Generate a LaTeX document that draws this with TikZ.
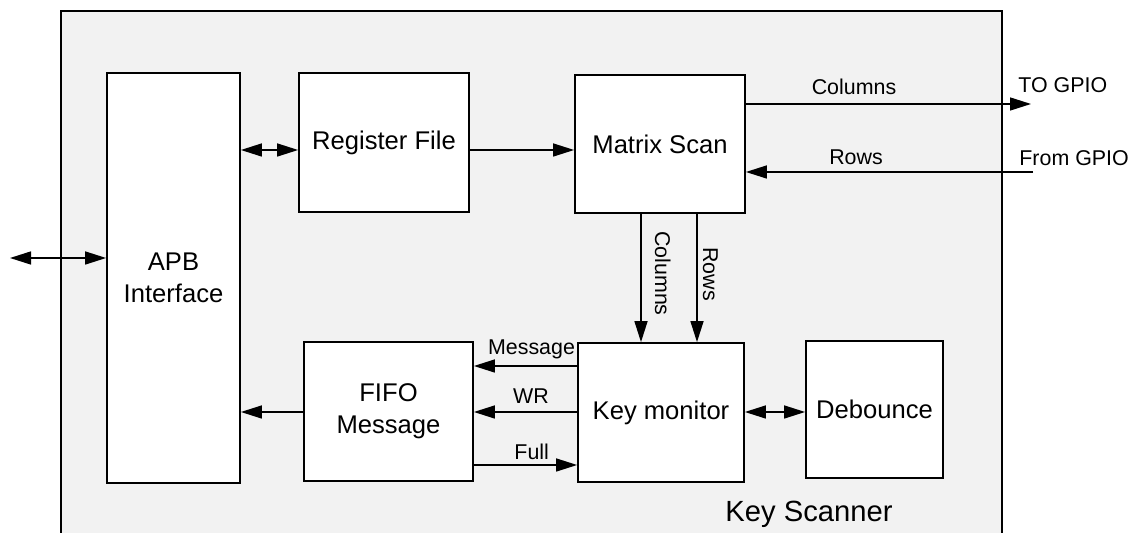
\documentclass[tikz,border=0pt]{standalone}
\usepackage{fontspec}
\setmainfont{Liberation Sans}
\usetikzlibrary{arrows.meta}
\definecolor{bgc}{HTML}{F2F2F2}
\begin{document}
\begin{tikzpicture}[x=0.5pt,y=-0.5pt,
  box/.style={draw=black, line width=0.9pt, fill=white, align=center, inner sep=0pt, font=\fontsize{12.8}{15.8}\selectfont},
  conn/.style={line width=0.75pt, -{Triangle[length=10.5pt,width=6.5pt]}},
  biconn/.style={line width=0.75pt, {Triangle[length=10.5pt,width=6.5pt]}-{Triangle[length=10.5pt,width=6.5pt]}},
  lbl/.style={font=\fontsize{10.7}{13}\selectfont, anchor=base, inner sep=0pt},
]
\useasboundingbox (0,0) rectangle (1136,533);
\begin{scope}
  \clip (0,0) rectangle (1136,533);
  \draw[line width=0.9pt, fill=bgc] (61,11) rectangle (1002,580);
\end{scope}

\node[box, minimum width=66.5pt, minimum height=205pt] (apb) at (173.5,278) {APB\\Interface};
\node[box, minimum width=85pt, minimum height=69.5pt] (reg) at (384,142.5) {Register File};
\node[box, minimum width=85pt, minimum height=69pt] (mat) at (660,144) {Matrix Scan};
\node[box, minimum width=83pt, minimum height=69.5pt] (km) at (661,412.5) {Key monitor};
\node[box, minimum width=68.5pt, minimum height=68.5pt] (deb) at (874.5,409.5) {Debounce};
\node[box, minimum width=84.5pt, minimum height=69.5pt] (fifo) at (388.5,411.5) {FIFO\\Message};

\coordinate (ext) at (10,258);
\coordinate (togpio) at (1031,104);
\coordinate (fromgpio) at (1033,172);

\draw[biconn] (ext) -- (ext -| apb.west);
\draw[biconn] (apb.east |- 0,150) -- (reg.west |- 0,150);
\draw[conn] (reg.east |- 0,150) -- (mat.west |- 0,150);
\draw[conn] (mat.east |- togpio) -- (togpio);
\draw[conn] (fromgpio) -- (fromgpio -| mat.east);
\draw[conn] (mat.south -| 641,0) -- (km.north -| 641,0);
\draw[conn] (mat.south -| 697,0) -- (km.north -| 697,0);
\draw[conn] (km.west |- 0,366) -- (fifo.east |- 0,366);
\draw[conn] (km.west |- 0,412) -- (fifo.east |- 0,412);
\draw[conn] (fifo.east |- 0,465) -- (km.west |- 0,465);
\draw[conn] (fifo.west |- 0,412) -- (apb.east |- 0,412);
\draw[biconn] (km.east |- 0,412) -- (deb.west |- 0,412);

\node[lbl] (lcol) at (854,94.5) {Columns};
\node[lbl, anchor=base west] (lto) at (1018,93) {TO GPIO};
\node[lbl] (lrows) at (856,165) {Rows};
\node[lbl, anchor=base west] (lfrom) at (1019,166) {From GPIO};
\node[lbl, rotate=-90] (lvcol) at (655,273.5) {Columns};
\node[lbl, rotate=-90] (lvrow) at (703,274) {Rows};
\node[lbl] (lmsg) at (531.5,355) {Message};
\node[lbl] (lwr) at (531,404) {WR};
\node[lbl] (lfull) at (531.7,460) {Full};
\node[lbl, font=\fontsize{14.6}{17}\selectfont] (lks) at (809,522) {Key Scanner};
\end{tikzpicture}
\end{document}
